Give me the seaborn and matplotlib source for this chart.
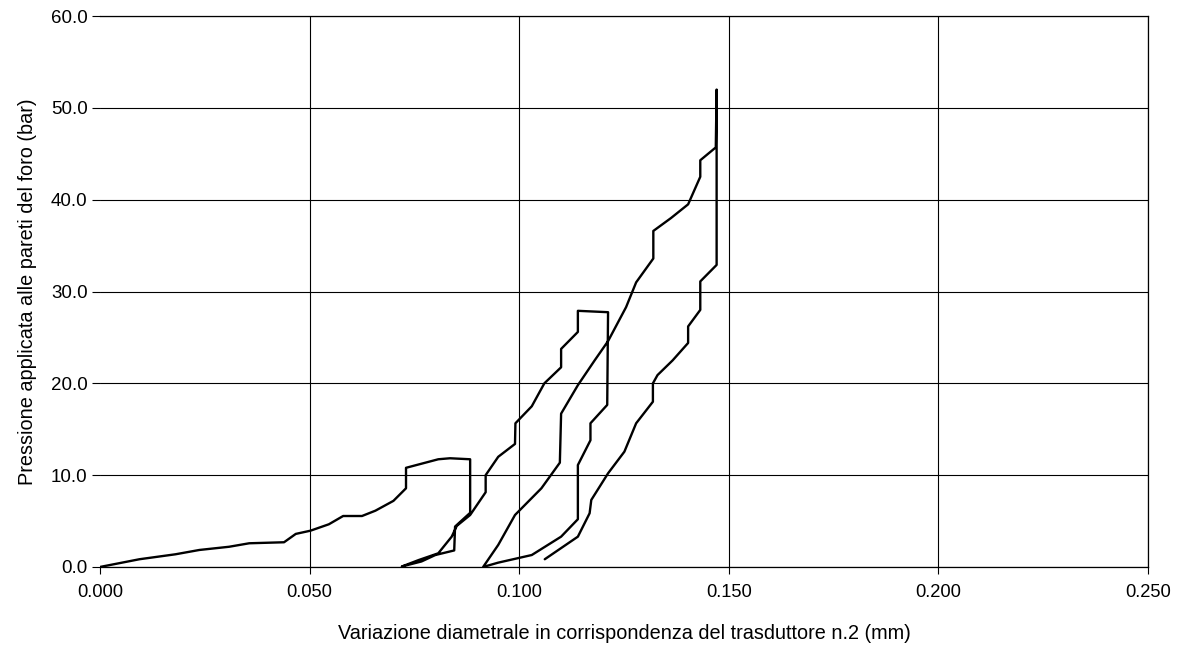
import numpy as np
import pandas as pd
import matplotlib
matplotlib.use("Agg")
import matplotlib.pyplot as plt
import seaborn as sns
from matplotlib.ticker import FormatStrFormatter

# ---- data ----
# cycle 1 loading and unloading
load1_x = [0.000, 0.0094, 0.0180, 0.0237, 0.0308, 0.0356, 0.0439, 0.0467, 0.0502, 0.0546,
           0.0580, 0.0625, 0.0657, 0.0700, 0.0730, 0.0730, 0.0807, 0.0835, 0.0883]
load1_y = [0.0, 0.84, 1.38, 1.85, 2.20, 2.58, 2.69, 3.60, 3.95, 4.65,
           5.55, 5.55, 6.13, 7.20, 8.57, 10.80, 11.73, 11.84, 11.73]
unload1_x = [0.0883, 0.0847, 0.0845, 0.0800, 0.0767, 0.0720]
unload1_y = [5.90, 4.40, 1.80, 1.30, 0.60, 0.05]
# cycle 2
load2_x = [0.0760, 0.0807, 0.0839, 0.0851, 0.0883, 0.0920, 0.0920, 0.0950, 0.0990, 0.0991,
           0.1030, 0.1060, 0.1100, 0.1100, 0.1140, 0.1140, 0.1212]
load2_y = [0.75, 1.49, 3.30, 4.47, 5.66, 8.14, 10.00, 12.00, 13.40, 15.65,
           17.50, 20.00, 21.75, 23.75, 25.60, 27.90, 27.75]
unload2_x = [0.1210, 0.1170, 0.1170, 0.1140, 0.1140, 0.1100, 0.1030, 0.0950, 0.0914]
unload2_y = [17.65, 15.65, 13.80, 11.10, 5.20, 3.30, 1.30, 0.47, 0.00]
# cycle 3
load3_x = [0.0950, 0.0990, 0.1053, 0.1097, 0.1100, 0.1140, 0.1180, 0.1212, 0.1255, 0.1279,
           0.1320, 0.1320, 0.1362, 0.1403, 0.1432, 0.1432, 0.1469, 0.1471]
load3_y = [2.40, 5.66, 8.57, 11.36, 16.70, 19.80, 22.50, 24.60, 28.30, 31.00,
           33.60, 36.60, 38.00, 39.50, 42.50, 44.30, 45.70, 52.00]
unload3_x = [0.1471, 0.1432, 0.1432, 0.1403, 0.1403, 0.1366, 0.1330, 0.1319, 0.1319, 0.1279,
             0.1251, 0.1212, 0.1172, 0.1168, 0.1140, 0.1061]
unload3_y = [32.90, 31.10, 28.00, 26.20, 24.40, 22.50, 20.90, 20.00, 18.00, 15.65,
             12.56, 10.20, 7.30, 5.85, 3.30, 0.84]

x_ticks = [0.000, 0.050, 0.100, 0.150, 0.200, 0.250]
y_ticks = [0.0, 10.0, 20.0, 30.0, 40.0, 50.0, 60.0]
x_label = "Variazione diametrale in corrispondenza del trasduttore n.2 (mm)"
y_label = "Pressione applicata alle pareti del foro (bar)"

xs = load1_x + unload1_x + load2_x + unload2_x + load3_x + unload3_x
ys = load1_y + unload1_y + load2_y + unload2_y + load3_y + unload3_y
df = pd.DataFrame({"x": xs, "y": ys, "order": np.arange(len(xs))})

sns.set_theme(style="white")
plt.rcParams["font.family"] = ["Liberation Sans", "DejaVu Sans"]

fig = plt.figure(figsize=(11.78, 6.45), dpi=100)
ax = fig.add_axes([0.0849, 0.121, 0.9745 - 0.0849, 0.975 - 0.121])

sns.lineplot(data=df, x="x", y="y", sort=False, estimator=None, color="black",
             linewidth=1.7, ax=ax)

ax.set_xlim(0, 0.25)
ax.set_ylim(0, 60)
ax.set_xticks(x_ticks)
ax.set_yticks(y_ticks)
ax.xaxis.set_major_formatter(FormatStrFormatter("%.3f"))
ax.yaxis.set_major_formatter(FormatStrFormatter("%.1f"))
ax.grid(True, color="black", linewidth=0.8)
ax.set_axisbelow(True)

for side in ["top", "right", "bottom"]:
    ax.spines[side].set_visible(True)
    ax.spines[side].set_color("black")
    ax.spines[side].set_linewidth(0.9)
ax.spines["left"].set_visible(False)

ax.tick_params(axis="both", which="major", direction="out", length=6, width=0.8,
               color="black", labelcolor="black")
ax.tick_params(axis="y", left=True, labelsize=13.5, pad=3)
ax.tick_params(axis="x", bottom=True, length=5, pad=7, labelsize=13.2)

ax.set_xlabel(x_label, fontsize=14.3, color="black", labelpad=17)
ax.set_ylabel(y_label, fontsize=14.3, color="black", labelpad=10)

fig.canvas.draw()
# no vertical line at x = 0 in the reference
ax.xaxis.get_gridlines()[0].set_visible(False)

fig.savefig("out.png", dpi=100, facecolor="white")
